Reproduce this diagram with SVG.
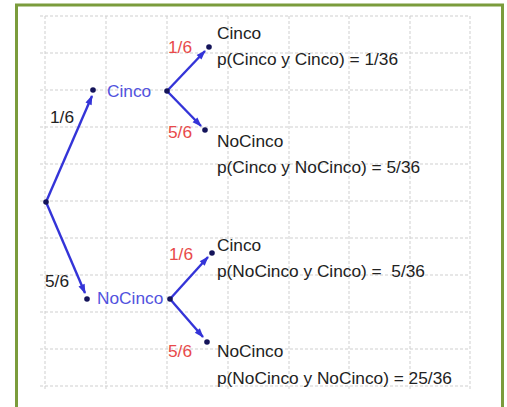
<svg xmlns="http://www.w3.org/2000/svg" width="507" height="407" viewBox="0 0 507 407">
<defs>
<style>
.grid line{stroke:#cfcfcf;stroke-width:1;stroke-dasharray:3,2}
.edge{stroke:#3434d8;stroke-width:2.4;fill:none;marker-end:url(#arr)}
.dot{fill:#14145a}
text{font-family:"Liberation Sans",Arial,Helvetica,sans-serif;font-size:17.3px}
.blk{fill:#222}
.blu{fill:#5252de}
.red{fill:#e84a4a}
</style>
<marker id="arr" viewBox="0 0 10 10" refX="9" refY="5" markerWidth="4.5" markerHeight="4" orient="auto" markerUnits="strokeWidth">
<path d="M0,1.5 L10,5 L0,8.5 z" fill="#3434d8"/>
</marker>
</defs>
<rect x="0" y="0" width="507" height="407" fill="#fff"/>
<rect x="16.5" y="5" width="486" height="430" fill="none" stroke="#7b9c3c" stroke-width="3"/>
<g class="grid">
<line x1="40" y1="16" x2="470" y2="16"/>
<line x1="40" y1="53" x2="470" y2="53"/>
<line x1="40" y1="90" x2="470" y2="90"/>
<line x1="40" y1="127" x2="470" y2="127"/>
<line x1="40" y1="164" x2="470" y2="164"/>
<line x1="40" y1="201" x2="470" y2="201"/>
<line x1="40" y1="238" x2="470" y2="238"/>
<line x1="40" y1="275" x2="470" y2="275"/>
<line x1="40" y1="312" x2="470" y2="312"/>
<line x1="40" y1="349" x2="470" y2="349"/>
<line x1="40" y1="386" x2="470" y2="386"/>
<line x1="45" y1="16" x2="45" y2="390"/>
<line x1="106" y1="16" x2="106" y2="390"/>
<line x1="167" y1="16" x2="167" y2="390"/>
<line x1="228" y1="16" x2="228" y2="390"/>
<line x1="289" y1="16" x2="289" y2="390"/>
<line x1="349" y1="16" x2="349" y2="390"/>
<line x1="410" y1="16" x2="410" y2="390"/>
<line x1="470" y1="16" x2="470" y2="390"/>
</g>
<g id="connectors">
<path class="edge" d="M46,202 L92,96"/>
<path class="edge" d="M46,202 L85,293"/>
<path class="edge" d="M167,91 L205,51"/>
<path class="edge" d="M167,91 L201,126"/>
<path class="edge" d="M170,299 L208,257"/>
<path class="edge" d="M170,299 L203,337"/>
<text class="blk" x="50" y="123">1/6</text>
<text class="blk" x="45" y="287">5/6</text>
<text class="red" x="168" y="53">1/6</text>
<text class="red" x="168" y="138">5/6</text>
<text class="red" x="169" y="260">1/6</text>
<text class="red" x="168" y="357">5/6</text>
</g>
<g id="root"><circle class="dot" cx="46" cy="202" r="2.8"/></g>
<g id="cinco">
<circle class="dot" cx="93" cy="90" r="2.8"/>
<text class="blu" x="107" y="97">Cinco</text>
<circle class="dot" cx="167" cy="91" r="2.8"/>
</g>
<g id="nocinco">
<circle class="dot" cx="87" cy="299" r="2.8"/>
<text class="blu" x="97" y="304">NoCinco</text>
<circle class="dot" cx="170" cy="299" r="2.8"/>
</g>
<g id="leaf-cc">
<circle class="dot" cx="209" cy="47" r="2.8"/>
<text class="blk" x="217" y="39">Cinco</text>
<text class="blk" x="217" y="65">p(Cinco y Cinco) = 1/36</text>
</g>
<g id="leaf-cn">
<circle class="dot" cx="205" cy="130" r="2.8"/>
<text class="blk" x="217" y="147">NoCinco</text>
<text class="blk" x="217" y="173">p(Cinco y NoCinco) = 5/36</text>
</g>
<g id="leaf-nc">
<circle class="dot" cx="212" cy="253" r="2.8"/>
<text class="blk" x="217" y="251">Cinco</text>
<text class="blk" x="217" y="277" xml:space="preserve">p(NoCinco y Cinco) =  5/36</text>
</g>
<g id="leaf-nn">
<circle class="dot" cx="207" cy="342" r="2.8"/>
<text class="blk" x="217" y="357">NoCinco</text>
<text class="blk" x="217" y="384">p(NoCinco y NoCinco) = 25/36</text>
</g>
</svg>
